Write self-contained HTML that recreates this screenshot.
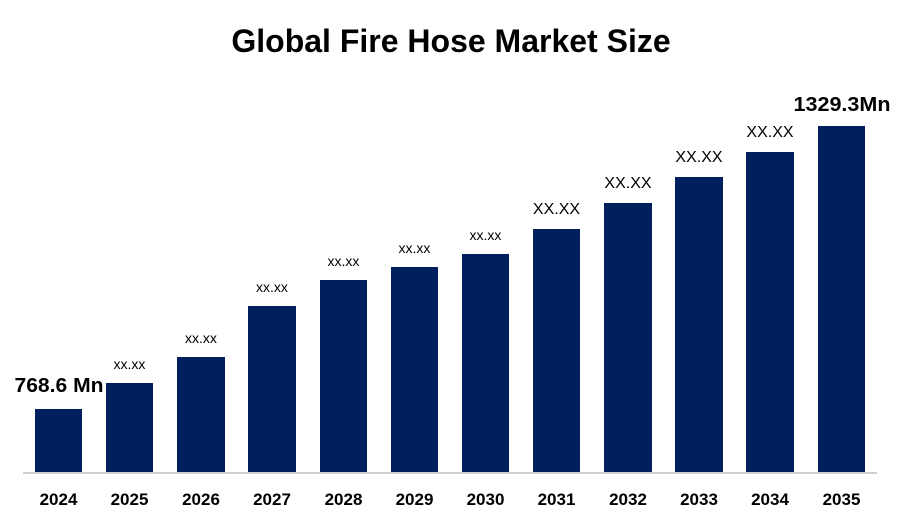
<!DOCTYPE html>
<html><head><style>
html,body{margin:0;padding:0;background:#fff;}
svg{display:block;font-family:"Liberation Sans",Arial,sans-serif;}
</style></head><body>
<svg width="900" height="525" viewBox="0 0 900 525">
<text x="451" y="52" text-anchor="middle" font-size="32" font-weight="bold" fill="#000">Global Fire Hose Market Size</text>
<g fill="#001f5c">
<rect x="35" y="409" width="47" height="63"/>
<rect x="106" y="383" width="47" height="89"/>
<rect x="177" y="357" width="48" height="115"/>
<rect x="248" y="306" width="48" height="166"/>
<rect x="320" y="280" width="47" height="192"/>
<rect x="391" y="267" width="47" height="205"/>
<rect x="462" y="254" width="47" height="218"/>
<rect x="533" y="229" width="47" height="243"/>
<rect x="604" y="203" width="48" height="269"/>
<rect x="675" y="177" width="48" height="295"/>
<rect x="746" y="152" width="48" height="320"/>
<rect x="818" y="126" width="47" height="346"/>
</g>
<line x1="23" y1="473" x2="877" y2="473" stroke="#d0d0d0" stroke-width="2"/>
<g font-size="14" text-anchor="middle" fill="#000">
<text x="129.5" y="369">xx.xx</text>
<text x="201" y="343">xx.xx</text>
<text x="272" y="292">xx.xx</text>
<text x="343.5" y="266">xx.xx</text>
<text x="414.5" y="253">xx.xx</text>
<text x="485.5" y="240">xx.xx</text>
</g>
<g font-size="16" text-anchor="middle" fill="#000">
<text x="556.5" y="214">XX.XX</text>
<text x="628" y="188">XX.XX</text>
<text x="699" y="162">XX.XX</text>
<text x="770" y="137">XX.XX</text>
</g>
<text x="59" y="392" text-anchor="middle" font-size="20" font-weight="bold" textLength="89" lengthAdjust="spacingAndGlyphs">768.6 Mn</text>
<text x="842" y="111" text-anchor="middle" font-size="20" font-weight="bold" textLength="97" lengthAdjust="spacingAndGlyphs">1329.3Mn</text>
<g font-size="17" font-weight="bold" text-anchor="middle" fill="#000">
<text x="58.5" y="505">2024</text>
<text x="129.5" y="505">2025</text>
<text x="201" y="505">2026</text>
<text x="272" y="505">2027</text>
<text x="343.5" y="505">2028</text>
<text x="414.5" y="505">2029</text>
<text x="485.5" y="505">2030</text>
<text x="556.5" y="505">2031</text>
<text x="628" y="505">2032</text>
<text x="699" y="505">2033</text>
<text x="770" y="505">2034</text>
<text x="841.5" y="505">2035</text>
</g>
</svg>
</body></html>
